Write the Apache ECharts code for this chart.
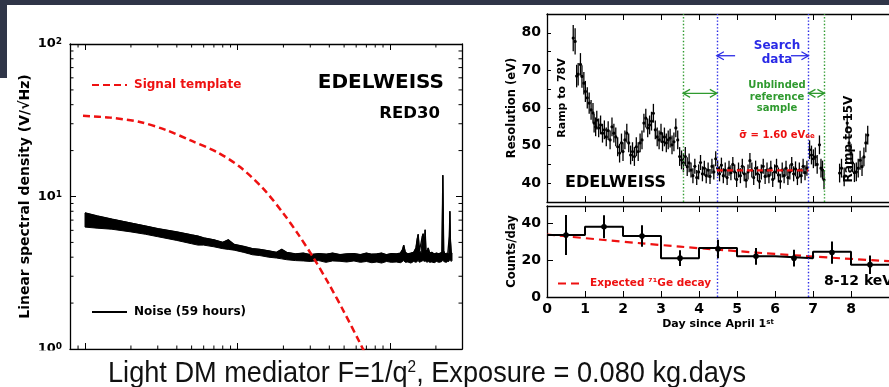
<!DOCTYPE html>
<html><head><meta charset="utf-8">
<script src="https://cdn.jsdelivr.net/npm/echarts@6/dist/echarts.min.js"></script>
<style>html,body{margin:0;padding:0;background:#fff}#c{width:889px;height:387px}</style>
</head><body><div id="c"></div>
<script>
// ---------- Left panel: noise spectral density ----------
const noiseFreq = [1,1.2,1.5,2,2.5,3,4,5,5.5,6,7,8,8.7,9.5,11,12,12.5,14,16,18,19.5,21,24,27,30,34,38,42,47,52,58,64,70,76,82,88,95,102,110,117,121,123,126,131,137,143,148,151,153,156,160,163,165,168,170,172,175,178,182,188,195,202,209,215,219,221,222,223,225,229,234,239,243,245,247,249,252,255];
const noiseLow  = [6.3,6.2,6.1,5.86,5.65,5.45,5.15,4.9,4.8,4.8,4.68,4.55,4.5,4.45,4.3,4.2,4.15,4.1,4.0,3.95,3.9,3.85,3.8,3.78,3.75,3.8,3.7,3.78,3.76,3.72,3.78,3.7,3.75,3.68,3.72,3.66,3.75,3.7,3.72,3.68,3.75,3.8,3.7,3.72,3.66,3.75,3.7,3.75,3.8,3.7,3.75,3.78,3.8,3.75,3.78,3.75,3.7,3.75,3.7,3.72,3.68,3.75,3.7,3.72,3.75,3.8,3.85,3.8,3.75,3.72,3.7,3.75,3.75,3.8,3.85,3.8,3.75,3.8];
const noiseHigh = [7.8,7.45,7.1,6.7,6.4,6.15,5.85,5.6,5.5,5.35,5.2,5.0,5.2,4.85,4.7,4.6,4.55,4.5,4.4,4.3,4.5,4.3,4.2,4.25,4.15,4.22,4.18,4.25,4.15,4.2,4.22,4.15,4.25,4.18,4.2,4.25,4.15,4.22,4.2,4.25,4.5,4.8,4.3,4.2,4.25,4.3,4.6,5.3,5.65,4.4,4.3,5.5,5.7,4.6,6.05,4.5,4.3,4.6,4.25,4.3,4.2,4.25,4.2,4.25,4.3,9.0,13.8,9.5,4.4,4.2,4.25,4.2,4.3,5.5,8.0,5.2,4.3,4.2];
const signalFreq = [0.97,1.46,2.29,3.43,4.88,7.3,10.4,14.7,20,25.1,31.6,39.8,50.1,63.1,70.8];
const signalVal  = [33.8,32.9,30.8,27.2,23.4,19.6,15.6,11.3,7.74,5.62,3.94,2.66,1.74,1.11,0.875];
const freqMinorTicks = [0.9,2,3,4,5,6,7,8,9,20,30,40,50,60,70,80,90,200];
const psdMinorTicks = [2,3,4,5,6,7,8,9,20,30,40,50,60,70,80,90];

// ---------- Right upper panel: resolution vs day ----------
const resDay = [0.69,0.74,0.78,0.82,0.88,0.92,0.97,1.01,1.06,1.11,1.16,1.21,1.24,1.28,1.31,1.36,1.41,1.46,1.51,1.56,1.61,1.66,1.71,1.76,1.81,1.86,1.91,1.96,2.00,2.05,2.10,2.15,2.20,2.25,2.30,2.35,2.40,2.45,2.50,2.55,2.60,2.65,2.70,2.75,2.80,2.85,2.90,2.95,3.00,3.04,3.09,3.14,3.19,3.24,3.29,3.34,3.39,3.44,3.49,3.54,3.59,3.64,3.69,3.74,
3.79,3.84,3.89,3.94,3.99,4.04,4.09,4.14,4.19,4.24,4.29,4.34,4.39,4.44,4.49,4.54,4.59,4.64,4.69,4.74,4.79,4.84,4.89,4.94,4.99,5.04,5.09,5.14,5.19,5.24,5.29,5.34,5.39,5.44,5.49,5.54,5.59,5.64,5.69,5.74,5.79,5.84,5.89,5.94,5.99,6.04,6.09,6.14,6.19,6.24,6.29,6.34,6.39,6.44,6.49,6.54,6.59,6.64,6.69,6.74,6.79,6.84,
6.91,6.96,7.01,7.06,7.11,7.17,7.21,7.25,7.29,
7.70,7.75,7.82,7.90,7.95,8.00,8.04,8.09,8.14,8.19,8.24,8.29,8.34,8.39,8.44];
const resVal = [78.6,77.7,68.5,69.0,71.6,68.4,66.6,64.4,62.7,61.3,59.5,58.7,56.0,55.0,56.8,54.7,55.5,53.3,54.2,52.3,54.0,51.5,55.0,53.3,52.3,49.7,48.0,50.7,48.4,51.5,53.3,50.7,47.5,48.4,47.1,49.7,48.4,50.7,51.5,56.0,57.3,54.7,55.5,56.5,58.6,54.2,52.3,51.5,53.3,51.0,52.3,50.7,51.5,52.0,50.2,51.0,54.7,51.5,47.1,46.2,45.4,47.1,44.4,45.4,
43.5,42.0,44.5,41.5,43.0,45.5,42.5,44.0,42.0,43.5,41.8,44.5,43.0,46.5,44.0,42.5,44.8,42.0,43.5,41.5,44.0,42.8,45.0,43.0,41.0,43.5,42.0,44.5,42.5,40.8,43.0,46.0,43.5,41.5,44.0,42.5,40.5,43.0,44.5,41.8,43.5,42.0,44.0,41.0,43.0,44.5,42.2,40.5,43.5,42.0,44.0,41.5,43.0,45.0,42.5,43.8,41.5,43.5,42.0,44.5,42.8,44.0,
48.9,47.5,46.5,47.0,45.0,50.2,44.0,43.5,40.9,
42.7,44.0,41.7,56.0,50.7,48.0,45.4,42.8,43.0,44.0,46.1,44.4,47.0,50.7,52.8];
const resErr = [3.5,3.5,3,3,3,3,3,2.8,2.8,2.8,2.6,2.6,2.5,2.5,2.5,2.5,2.5,2.5,2.5,2.5,2.5,2.5,2.5,2.5,2.5,2.5,2.5,2.5,2.5,2.5,2.5,2.5,2.5,2.5,2.5,2.5,2.5,2.5,2.5,2.5,2.5,2.5,2.5,2.5,2.5,2.5,2.5,2.5,2.5,2.5,2.5,2.5,2.5,2.5,2.5,2.5,2.5,2.5,2.5,2.5,2.5,2.5,2.5,2.5,
2,2,2,2,2,2,2,2,2,2,2,2,2,2,2,2,2,2,2,2,2,2,2,2,2,2,2,2,2,2,2,2,2,2,2,2,2,2,2,2,2,2,2,2,2,2,2,2,2,2,2,2,2,2,2,2,2,2,2,2,2,2,
2.5,2.5,2.5,2.5,2.5,2.5,2.5,2.5,2.5,
2.5,2.5,2.5,2.5,2.5,2.5,2.5,2.5,2.5,2.5,2.5,2.5,2.5,2.5,2.5];
const referenceBounds = [3.58, 7.30];
const searchBounds = [4.47, 6.88];
const sigmaLevel = 43.4;
const searchArrowY = 73.9;
const refArrowY = 63.9;

// ---------- Right lower panel: counts per day ----------
const binEdges = [0,1,2,3,4,5,6,7,8,9];
const binCounts = [33.5,38,33,21,26.5,22,21,24.5,17.5];
const pointDay = [0.5,1.5,2.5,3.5,4.5,5.5,6.5,7.5,8.5];
const pointVal = [33.5,38,33,21,26,22,21,24,17.5];
const pointErr = [10.8,6.2,5.8,4.3,5,4.5,4.5,6,5];
const geDay = [0,1,2,3,4,5,6,7,8,9];
const geVal = [33.8,31.8,29.9,28.1,26.4,24.8,23.3,21.9,20.6,19.4];

// ---------- styles ----------
const F = 'DejaVu Sans';
const CAP = '"Liberation Sans", Arial, sans-serif';
const RED = '#ee1111', BLUE = '#2a2ae6', GREEN = '#2f9a2f', INK = '#000';
const axLine = {show:true, lineStyle:{color:INK, width:1.3}};
const tickIn = {show:true, inside:true, length:6, lineStyle:{color:INK, width:1}};
const FMIN = 0.797, FMAX = 296.6, PMIN = 1, PMAX = 100;

// caption width fit (condensed look)
const capMain1 = 'Light DM mediator F=1/q', capSup = '2', capMain2 = ', Exposure = 0.080 kg.days';
const mctx = document.createElement('canvas').getContext('2d');
mctx.font = '30px ' + CAP;
let capW = mctx.measureText(capMain1 + capMain2).width;
mctx.font = '17px ' + CAP;
capW += mctx.measureText(capSup).width;
const capScale = 638 / capW;

const chart = echarts.init(document.getElementById('c'));

function errRender(r, w) {
  return function (params, api) {
    const x = api.value(0), y = api.value(1), e = api.value(2);
    const t = api.coord([x, y + e]), b = api.coord([x, y - e]), c = api.coord([x, y]);
    return {type:'group', children:[
      {type:'line', shape:{x1:t[0], y1:t[1], x2:b[0], y2:b[1]}, style:{stroke:INK, lineWidth:w}},
      {type:'circle', shape:{cx:c[0], cy:c[1], r:r}, style:{fill:INK}}
    ]};
  };
}
function arrowRender(color, both) {
  return function (params, api) {
    const p1 = api.coord([api.value(0), api.value(2)]);
    const p2 = api.coord([api.value(1), api.value(2)]);
    const s = p2[0] > p1[0] ? 1 : -1;
    const kids = [{type:'line', shape:{x1:p1[0], y1:p1[1], x2:p2[0], y2:p2[1]}, style:{stroke:color, lineWidth:1.3}}];
    const head = (p, d) => ({type:'polyline', shape:{points:[[p[0]-d*7, p[1]-4],[p[0], p[1]],[p[0]-d*7, p[1]+4]]}, style:{stroke:color, lineWidth:1.3, fill:null}});
    kids.push(head(p2, s));
    if (both) kids.push(head(p1, -s));
    return {type:'group', children:kids};
  };
}
// minor log ticks, positioned by the axes' own scales
function minorTickRender(params, api) {
  const kind = api.value(0), v = api.value(1), L = 3.5;
  const st = {stroke:INK, lineWidth:1};
  if (kind === 0) {
    const b = api.coord([v, PMIN]), t = api.coord([v, PMAX]);
    return {type:'group', children:[
      {type:'line', shape:{x1:b[0], y1:b[1], x2:b[0], y2:b[1]-L}, style:st},
      {type:'line', shape:{x1:t[0], y1:t[1], x2:t[0], y2:t[1]+L}, style:st}]};
  }
  const l = api.coord([FMIN, v]), r = api.coord([FMAX, v]);
  return {type:'group', children:[
    {type:'line', shape:{x1:l[0], y1:l[1], x2:l[0]+L, y2:l[1]}, style:st},
    {type:'line', shape:{x1:r[0], y1:r[1], x2:r[0]-L, y2:r[1]}, style:st}]};
}

const logLabel = v => '{b|10}{s|' + Math.round(Math.log10(v)) + '}';
const legendCommon = {padding:0, itemHeight:12, itemStyle:{opacity:0}, textStyle:{fontFamily:F, fontWeight:'bold', fontSize:12, padding:[0,0,0,2]}};

const option = {
  animation: false,
  backgroundColor: '#fff',
  grid: [
    {left:70, top:44, width:392, height:305},
    {left:547, top:14, width:363.6, height:188},
    {left:547, top:206, width:363.6, height:91}
  ],
  xAxis: [
    {type:'log', gridIndex:0, min:FMIN, max:FMAX, axisLine:axLine, axisTick:tickIn, axisLabel:{show:false}, splitLine:{show:false}},
    {type:'log', gridIndex:0, position:'top', min:FMIN, max:FMAX, axisLine:axLine, axisTick:tickIn, axisLabel:{show:false}, splitLine:{show:false}},
    {type:'value', gridIndex:1, min:0, max:9, interval:1, axisLine:axLine, axisTick:tickIn, axisLabel:{show:false}, splitLine:{show:false}},
    {type:'value', gridIndex:1, position:'top', min:0, max:9, interval:1, axisLine:axLine, axisTick:tickIn, axisLabel:{show:false}, splitLine:{show:false}},
    {type:'value', gridIndex:2, min:0, max:9, interval:1, axisLine:axLine, axisTick:tickIn,
      axisLabel:{fontFamily:F, fontWeight:'bold', fontSize:14, color:INK, margin:5, showMaxLabel:false},
      splitLine:{show:false},
      name:'Day since April 1{s|st}', nameLocation:'middle', nameGap:22,
      nameTextStyle:{fontFamily:F, fontWeight:'bold', fontSize:11, color:INK, rich:{s:{fontFamily:F, fontWeight:'bold', fontSize:7, verticalAlign:'top', color:INK}}}},
    {type:'value', gridIndex:2, position:'top', min:0, max:9, interval:1, axisLine:axLine, axisTick:tickIn, axisLabel:{show:false}, splitLine:{show:false}}
  ],
  yAxis: [
    {type:'log', gridIndex:0, min:PMIN, max:PMAX, logBase:10, axisLine:axLine, axisTick:tickIn, splitLine:{show:false},
      axisLabel:{formatter:logLabel, margin:8, rich:{b:{fontFamily:F, fontWeight:'bold', fontSize:13, color:INK}, s:{fontFamily:F, fontWeight:'bold', fontSize:9, color:INK, verticalAlign:'top'}}},
      name:'Linear spectral density (V/√Hz)', nameLocation:'middle', nameGap:38,
      nameTextStyle:{fontFamily:F, fontWeight:'bold', fontSize:14, color:INK}},
    {type:'log', gridIndex:0, position:'right', min:PMIN, max:PMAX, logBase:10, axisLine:axLine, axisTick:tickIn, axisLabel:{show:false}, splitLine:{show:false}},
    {type:'value', gridIndex:1, min:35, max:85, interval:5, axisLine:axLine, axisTick:{show:true, inside:true, length:4, lineStyle:{color:INK}}, splitLine:{show:false},
      axisLabel:{formatter: v => (v % 10 === 0 ? String(v) : ''), fontFamily:F, fontWeight:'bold', fontSize:14, color:INK, margin:6},
      name:'Resolution (eV)', nameLocation:'middle', nameGap:27,
      nameTextStyle:{fontFamily:F, fontWeight:'bold', fontSize:11.5, color:INK}},
    {type:'value', gridIndex:2, min:0, max:49.2, interval:20, axisLine:axLine, axisTick:tickIn, splitLine:{show:false},
      axisLabel:{fontFamily:F, fontWeight:'bold', fontSize:14, color:INK, margin:6, showMaxLabel:false},
      name:'Counts/day', nameLocation:'middle', nameGap:25,
      nameTextStyle:{fontFamily:F, fontWeight:'bold', fontSize:11.5, color:INK}}
  ],
  legend: [
    Object.assign({}, legendCommon, {left:91, top:79, itemWidth:35, data:[{name:'Signal template', textStyle:{color:RED}}]}),
    Object.assign({}, legendCommon, {left:91, top:306, itemWidth:35, data:[{name:'Noise (59 hours)', textStyle:{color:INK}}]}),
    Object.assign({}, legendCommon, {left:557, top:278, itemWidth:25, data:[{name:'Expected ⁷¹Ge decay', textStyle:{color:RED}}],
      textStyle:{fontFamily:F, fontWeight:'bold', fontSize:10.5, padding:[0,0,0,2]}})
  ],
  series: [
    {type:'custom', xAxisIndex:0, yAxisIndex:0, silent:true, clip:false, z:2,
      data: freqMinorTicks.map(v => [0, v]).concat(psdMinorTicks.map(v => [1, v])),
      encode:{x:-1, y:-1},
      renderItem: minorTickRender},
    {type:'custom', xAxisIndex:0, yAxisIndex:0, silent:true, clip:true, z:3,
      data:[[noiseFreq[0], noiseLow[0]]],
      renderItem: function (params, api) {
        const top = noiseFreq.map((f, i) => api.coord([f, noiseHigh[i]]));
        const bot = noiseFreq.map((f, i) => api.coord([f, noiseLow[i]])).reverse();
        return {type:'polygon', shape:{points: top.concat(bot)}, style:{fill:INK, stroke:INK, lineWidth:1}};
      }},
    {type:'line', name:'Noise (59 hours)', xAxisIndex:0, yAxisIndex:0, showSymbol:false, symbol:'none', z:3,
      data: noiseFreq.map((f, i) => [f, noiseHigh[i]]), lineStyle:{color:INK, width:1.3}, itemStyle:{color:INK}},
    {type:'line', name:'Signal template', xAxisIndex:0, yAxisIndex:0, showSymbol:false, symbol:'none', smooth:0.3, clip:true, z:4,
      data: signalFreq.map((f, i) => [f, signalVal[i]]), lineStyle:{color:RED, width:2.5, type:[7,4]}, itemStyle:{color:RED}},

    {type:'custom', xAxisIndex:2, yAxisIndex:2, clip:true, silent:true, z:3,
      encode:{x:0, y:1},
      data: resDay.map((d, i) => [d, resVal[i], resErr[i]]),
      renderItem: errRender(1.6, 1.3)},
    {type:'line', xAxisIndex:2, yAxisIndex:2, showSymbol:false, symbol:'none', z:5,
      data: searchBounds.map(d => [d, sigmaLevel]), lineStyle:{color:RED, width:2.2, type:[6,4]},
      markLine:{silent:true, symbol:['none','none'], label:{show:false},
        data:[
          {xAxis:referenceBounds[0], lineStyle:{color:GREEN, width:1.4, type:[1.4,2]}},
          {xAxis:referenceBounds[1], lineStyle:{color:GREEN, width:1.4, type:[1.4,2]}},
          {xAxis:searchBounds[0], lineStyle:{color:BLUE, width:1.4, type:[1.4,2]}},
          {xAxis:searchBounds[1], lineStyle:{color:BLUE, width:1.4, type:[1.4,2]}}
        ]}},
    {type:'custom', xAxisIndex:2, yAxisIndex:2, silent:true, z:5,
      data:[[4.95, searchBounds[0], searchArrowY],[6.42, searchBounds[1], searchArrowY]],
      renderItem: arrowRender(BLUE, false)},
    {type:'custom', xAxisIndex:2, yAxisIndex:2, silent:true, z:5,
      data:[[referenceBounds[0], searchBounds[0], refArrowY],[searchBounds[1], referenceBounds[1], refArrowY]],
      renderItem: arrowRender(GREEN, true)},

    {type:'line', xAxisIndex:4, yAxisIndex:3, step:'end', showSymbol:false, symbol:'none', z:4,
      data: binEdges.map((e, i) => [e, binCounts[Math.min(i, binCounts.length - 1)]]),
      lineStyle:{color:INK, width:2},
      markLine:{silent:true, symbol:['none','none'], label:{show:false},
        data:[
          {xAxis:searchBounds[0], lineStyle:{color:BLUE, width:1.4, type:[1.4,2]}},
          {xAxis:searchBounds[1], lineStyle:{color:BLUE, width:1.4, type:[1.4,2]}}
        ]}},
    {type:'custom', xAxisIndex:4, yAxisIndex:3, clip:true, silent:true, z:5,
      encode:{x:0, y:1},
      data: pointDay.map((d, i) => [d, pointVal[i], pointErr[i]]),
      renderItem: errRender(2.8, 2)},
    {type:'line', name:'Expected ⁷¹Ge decay', xAxisIndex:4, yAxisIndex:3, showSymbol:false, symbol:'none', smooth:true, z:3,
      data: geDay.map((d, i) => [d, geVal[i]]), lineStyle:{color:RED, width:2.2, type:[8,5]}, itemStyle:{color:RED}}
  ],
  graphic: [
    {type:'rect', z:0, silent:true, shape:{x:0, y:0, width:889, height:5}, style:{fill:'#2f3548'}},
    {type:'rect', z:0, silent:true, shape:{x:0, y:0, width:7, height:78}, style:{fill:'#2f3548'}},
    {type:'rect', z:50, silent:true, shape:{x:0, y:350.5, width:889, height:37}, style:{fill:'#fff'}},
    {type:'text', z:60, x:444, y:83, style:{text:'EDELWEISS', align:'right', verticalAlign:'middle', font:'bold 20px "DejaVu Sans"', fill:INK}},
    {type:'text', z:60, x:440, y:114, style:{text:'RED30', align:'right', verticalAlign:'middle', font:'bold 16.5px "DejaVu Sans"', fill:INK}},
    {type:'text', z:60, x:562, y:98, rotation:Math.PI/2, style:{text:'Ramp to 78V', align:'center', verticalAlign:'middle', font:'bold 11px "DejaVu Sans"', fill:INK}},
    {type:'text', z:60, x:849, y:139, rotation:Math.PI/2, style:{text:'Ramp to 15V', align:'center', verticalAlign:'middle', font:'bold 12px "DejaVu Sans"', fill:INK}},
    {type:'text', z:60, x:565, y:183, style:{text:'EDELWEISS', align:'left', verticalAlign:'middle', font:'bold 16px "DejaVu Sans"', fill:INK}},
    {type:'text', z:60, x:777, y:46, style:{text:'Search', align:'center', verticalAlign:'middle', font:'bold 12px "DejaVu Sans"', fill:BLUE}},
    {type:'text', z:60, x:777, y:60, style:{text:'data', align:'center', verticalAlign:'middle', font:'bold 12px "DejaVu Sans"', fill:BLUE}},
    {type:'text', z:60, x:777, y:85, style:{text:'Unblinded', align:'center', verticalAlign:'middle', font:'bold 10px "DejaVu Sans"', fill:GREEN}},
    {type:'text', z:60, x:777, y:97, style:{text:'reference', align:'center', verticalAlign:'middle', font:'bold 10px "DejaVu Sans"', fill:GREEN}},
    {type:'text', z:60, x:777, y:108, style:{text:'sample', align:'center', verticalAlign:'middle', font:'bold 10px "DejaVu Sans"', fill:GREEN}},
    {type:'text', z:60, x:777, y:135, style:{text:'{m|σ̄ = 1.60 eV}{u|ee}', align:'center', verticalAlign:'middle',
      rich:{m:{fontFamily:F, fontWeight:'bold', fontSize:10, fill:RED, color:RED}, u:{fontFamily:F, fontWeight:'bold', fontSize:7, fill:RED, color:RED, verticalAlign:'bottom'}}}},
    {type:'text', z:60, x:824, y:281, style:{text:'{m|8-12 keV}{u|ee}', align:'left', verticalAlign:'middle',
      rich:{m:{fontFamily:F, fontWeight:'bold', fontSize:14, fill:INK, color:INK}, u:{fontFamily:F, fontWeight:'bold', fontSize:9, fill:INK, color:INK, verticalAlign:'bottom'}}}},
    {type:'text', z:60, x:427, y:374, scaleX:capScale, originX:0, originY:0,
      style:{text:'{m|' + capMain1 + '}{s|' + capSup + '}{m|' + capMain2 + '}', align:'center', verticalAlign:'middle',
      rich:{m:{fontFamily:CAP, fontSize:30, fill:'#111', color:'#111'}, s:{fontFamily:CAP, fontSize:17, fill:'#111', color:'#111', verticalAlign:'top'}}}}
  ]
};
chart.setOption(option);
</script>
</body></html>
